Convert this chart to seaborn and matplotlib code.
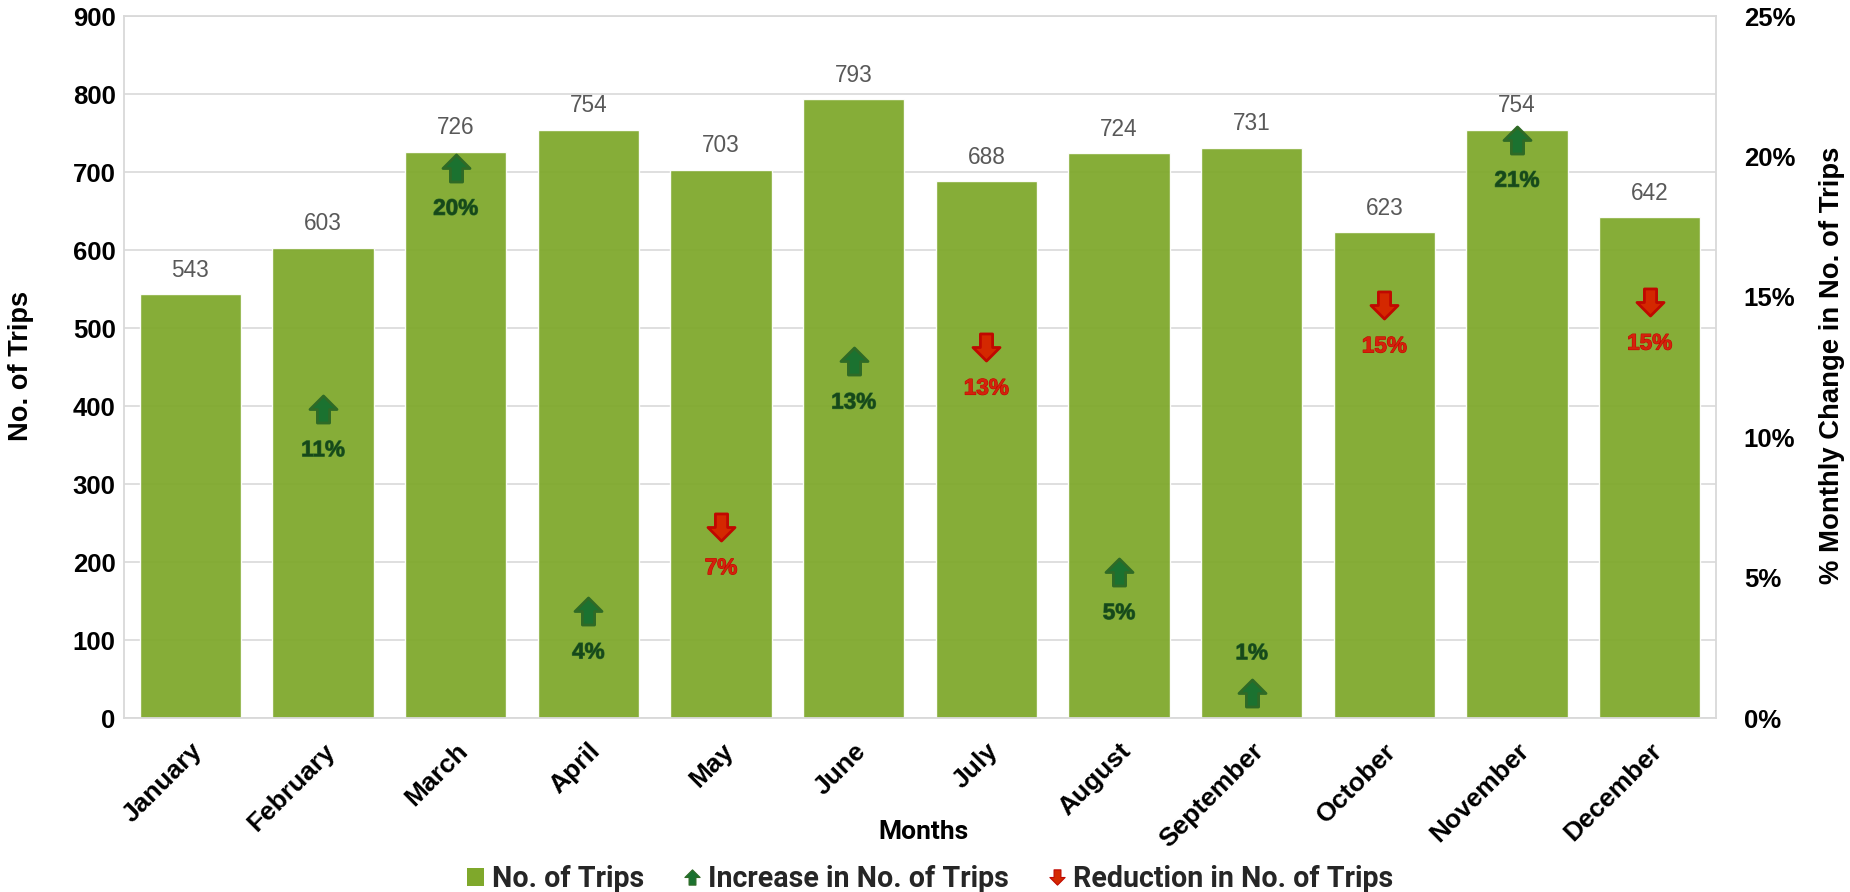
import matplotlib
matplotlib.use("Agg")
import matplotlib.pyplot as plt
from matplotlib.lines import Line2D
from matplotlib.patches import Patch
from matplotlib.path import Path
from matplotlib import patheffects as pe
import numpy as np
import pandas as pd
import seaborn as sns

months = ["January", "February", "March", "April", "May", "June", "July",
          "August", "September", "October", "November", "December"]
trips = [543, 603, 726, 754, 703, 793, 688, 724, 731, 623, 754, 642]
# Signed month-on-month change in percent; January has no earlier month.
change_months = ["February", "March", "April", "May", "June", "July",
                 "August", "September", "October", "November", "December"]
change_pct = [11.0, 19.6, 3.8, -6.8, 12.7, -13.2, 5.2, 0.9, -14.7, 20.6, -14.8]

BAR = "#7FA82B"
GRID = "#D9D9D9"
UP_FILL, UP_EDGE, UP_TEXT = "#1B7230", "#2F6A26", "#17481A"
DOWN_FILL, DOWN_EDGE, DOWN_TEXT = "#D42800", "#C00800", "#D4220C"
SANS = "Liberation Sans"
NARROW = "Roboto"

sns.set_theme(style="white")
plt.rcParams["font.family"] = [SANS, "DejaVu Sans"]

W, H = 1850, 892
fig = plt.figure(figsize=(W / 100, H / 100), dpi=100, facecolor="white")
ax = fig.add_axes([124 / W, 1 - 718 / H, (1716 - 124) / W, (718 - 16) / H])

# Bars, slightly see-through so the gridlines show faintly behind them
trip_df = pd.DataFrame({"month": months, "trips": trips})
sns.barplot(data=trip_df, x="month", y="trips", color=BAR, saturation=1,
            width=0.765, alpha=0.94, ax=ax, zorder=2)
ax.set_ylim(0, 900)
ax.set_xlim(-0.5, 11.5)
ax.set_yticks(np.arange(0, 901, 100))
ax.yaxis.grid(True, color=GRID, lw=1.2, zorder=1)
ax.set_axisbelow(True)
for side in ax.spines.values():
    side.set_color(GRID)
    side.set_linewidth(1.3)
ax.tick_params(axis="y", length=0, pad=6, labelsize=18.5)
ax.tick_params(axis="x", length=0, pad=15)
for lab in ax.get_yticklabels():
    lab.set_fontweight("bold")
    lab.set_color("black")
ax.set_xticks(range(len(months)))
ax.set_xticklabels(months, rotation=45, ha="right", rotation_mode="anchor",
                   fontsize=19, fontweight="bold", color="black")
ax.set_xlabel("")
ax.set_ylabel("")
ax.bar_label(ax.containers[0], labels=[str(v) for v in trips], padding=9,
             fontsize=16.3, color="#595959")

fig.text(21 / W, 1 - 366 / H, "No. of Trips", rotation=90, ha="center",
         va="center", fontsize=19.6, fontweight="bold", color="black")
fig.text(1832 / W, 1 - 365 / H, "% Monthly Change in No. of Trips", rotation=90,
         ha="center", va="center", fontsize=19.8, fontweight="bold", color="black")
fig.text(924 / W, 1 - 832 / H, "Months", ha="center", va="center",
         fontsize=19, fontweight="bold", family=NARROW, color="black")

# Secondary axis holding the change arrows
ax2 = ax.twinx()
ax2.set_ylim(0, 25)
ax2.set_yticks(np.arange(0, 26, 5))
ax2.set_yticklabels([f"{v}%" for v in range(0, 26, 5)], fontsize=18.5,
                    fontweight="bold", color="black")
ax2.tick_params(axis="y", length=0, pad=20)
ax2.grid(False)
ax2.set_ylabel("")
for side in ax2.spines.values():
    side.set_visible(False)

UP_ARROW = Path([(0, 1), (1, 0), (0.45, 0), (0.45, -1), (-0.45, -1),
                 (-0.45, 0), (-1, 0), (0, 1)], closed=True)
DOWN_ARROW = Path([(0, -1), (1, 0), (0.45, 0), (0.45, 1), (-0.45, 1),
                   (-0.45, 0), (-1, 0), (0, -1)], closed=True)

chg = pd.DataFrame({"month": change_months, "signed": change_pct})
chg["pos"] = [months.index(m) for m in chg["month"]]
chg["size"] = chg["signed"].abs()

for mask, arrow, fill, edge in [(chg["signed"] > 0, UP_ARROW, UP_FILL, UP_EDGE),
                                (chg["signed"] < 0, DOWN_ARROW, DOWN_FILL, DOWN_EDGE)]:
    sns.scatterplot(data=chg[mask], x="pos", y="size", marker=arrow, s=380,
                    color=fill, edgecolor=edge, linewidth=2, ax=ax2,
                    zorder=5, legend=False)
ax2.set_xlabel("")
ax2.set_ylabel("")
ax2.set_xlim(-0.5, 11.5)

for _, row in chg.iterrows():
    rising = row["signed"] > 0
    # September's change is too small for room under the arrow
    offset = 28 if row["month"] == "September" else -30
    colour, outline = (UP_TEXT, UP_EDGE) if rising else (DOWN_TEXT, DOWN_EDGE)
    ax2.annotate(f"{row['size']:.0f}%", (row["pos"], row["size"]),
                 xytext=(0, offset), textcoords="offset points", ha="center",
                 va="center", fontsize=16.2, fontweight="bold", color=colour,
                 zorder=6,
                 path_effects=[pe.withStroke(linewidth=0.8, foreground=outline)])

# Legend
handles = [
    Patch(facecolor=BAR, edgecolor="none", label="No. of Trips"),
    Line2D([], [], ls="none", marker=UP_ARROW, ms=11, mfc=UP_FILL, mec=UP_EDGE,
           mew=0.8, label="Increase in No. of Trips"),
    Line2D([], [], ls="none", marker=DOWN_ARROW, ms=11, mfc=DOWN_FILL, mec=DOWN_EDGE,
           mew=0.8, label="Reduction in No. of Trips"),
]
fig.legend(handles=handles, loc="center", bbox_to_anchor=(930 / W, 1 - 879 / H),
           ncol=3, frameon=False, handlelength=0.61, handleheight=0.61,
           handletextpad=0.25, columnspacing=1.38, borderpad=0,
           prop={"family": NARROW, "weight": "bold", "size": 20.6})

fig.savefig("out.png", dpi=100, facecolor="white")
